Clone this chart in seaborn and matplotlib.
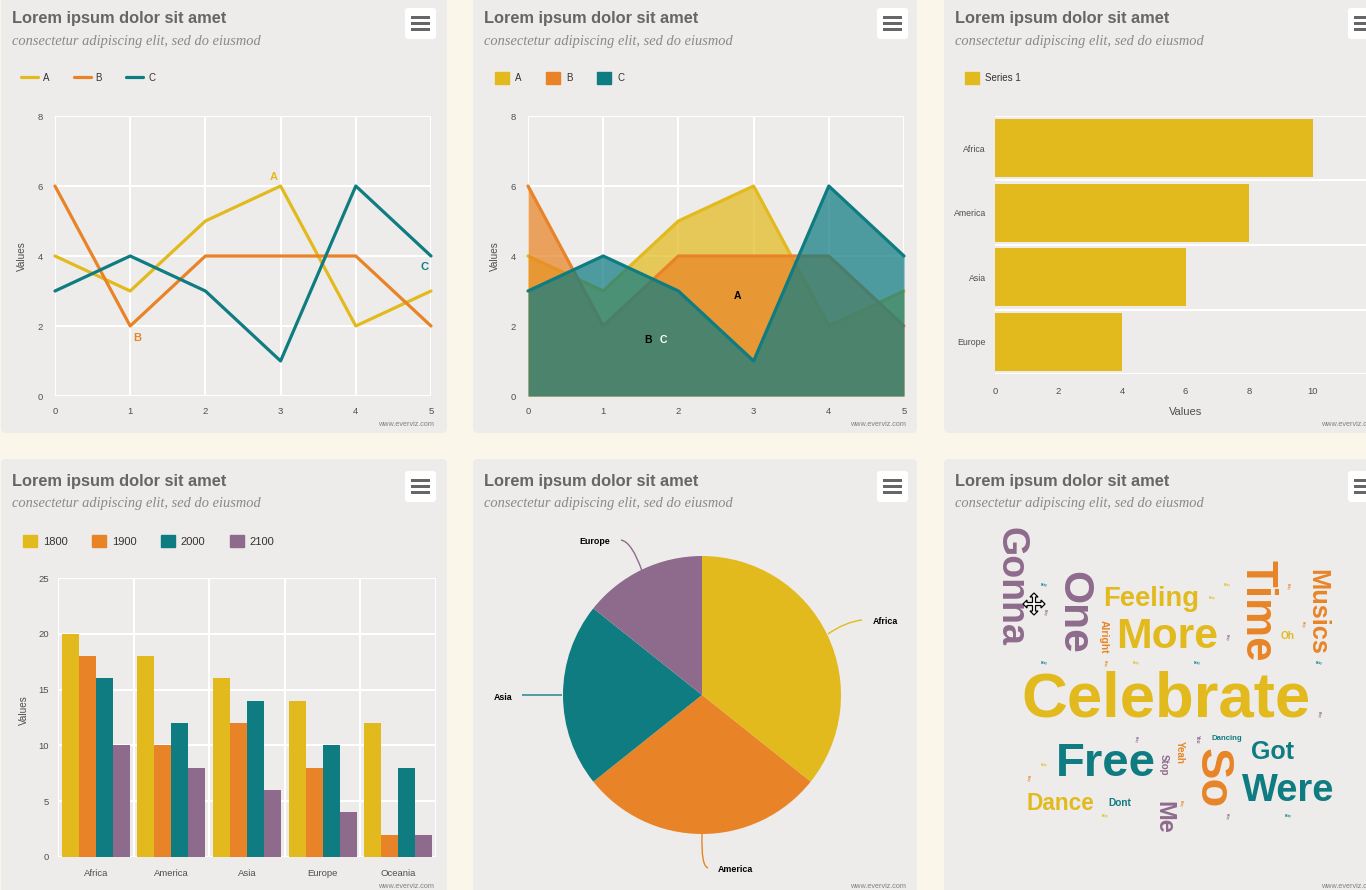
import matplotlib
matplotlib.use("Agg")
import matplotlib.pyplot as plt
from matplotlib.patches import FancyBboxPatch, Patch, PathPatch, Polygon, Rectangle
from matplotlib.path import Path
from matplotlib.lines import Line2D
import pandas as pd
import seaborn as sns

# data
x_vals = [0, 1, 2, 3, 4, 5]
series_a = [4, 3, 5, 6, 2, 3]
series_b = [6, 2, 4, 4, 4, 2]
series_c = [3, 4, 3, 1, 6, 4]
line_names = ["A", "B", "C"]

hbar_cats = ["Africa", "America", "Asia", "Europe"]
hbar_vals = [10, 8, 6, 4]

regions = ["Africa", "America", "Asia", "Europe", "Oceania"]
years = ["1800", "1900", "2000", "2100"]
vals_1800 = [20, 18, 16, 14, 12]
vals_1900 = [18, 10, 12, 8, 2]
vals_2000 = [16, 12, 14, 10, 8]
vals_2100 = [10, 8, 6, 4, 2]

pie_cats = ["Africa", "America", "Asia", "Europe"]
pie_vals = [5, 4, 3, 2]

# word, size in pt
big_words = ["Celebrate", "Free", "So", "More", "One", "Time", "Gonna", "Were", "Feeling",
             "Musics", "Got", "Me", "Dance", "Oh", "Alright", "Dont", "Dancing", "Yeah", "Stop", "You"]
word_sizes = [45.7, 34, 34, 30.7, 30.7, 31.5, 27, 27.4, 19.7, 18.3, 18, 17, 16.3, 7.3, 7.4, 7.3, 5.6, 7, 7, 3.4]

YELLOW = "#e2ba1e"
ORANGE = "#e88427"
TEAL = "#0f7c82"
PURPLE = "#8e6b8c"
PANEL = "#edecea"
PAGE = "#fbf6ea"
TXT = "#4f4f4f"

sns.set_theme(style="white")
plt.rcParams["font.family"] = ["Liberation Sans", "DejaVu Sans"]

W, H = 1366, 890
fig = plt.figure(figsize=(W / 100, H / 100), dpi=100, facecolor=PAGE)

# whole figure axes in pixel coordinates, for the panels and their text
bg = fig.add_axes([0, 0, 1, 1], zorder=0)
bg.set_xlim(0, W)
bg.set_ylim(H, 0)
bg.axis("off")


def px_axes(left, top, right, bottom):
    ax = fig.add_axes([left / W, 1 - bottom / H, (right - left) / W, (bottom - top) / H], zorder=2)
    ax.patch.set_alpha(0)
    return ax


def panel(x0, y0, x1, y1):
    bg.add_patch(FancyBboxPatch((x0, y0), x1 - x0, y1 - y0, boxstyle="round,pad=0,rounding_size=5",
                                fc=PANEL, ec="none"))


def chrome(x0, y0, foot_y):
    bg.text(x0 + 11, y0 + 18.5, "Lorem ipsum dolor sit amet", fontsize=11.8, color="#666666",
            weight="bold", va="center", ha="left")
    bg.text(x0 + 11, y0 + 41, "consectetur adipiscing elit, sed do eiusmod", fontsize=10.4,
            color="#8b8886", style="italic", family=["Liberation Serif", "DejaVu Serif"], va="center")
    bx = x0 + 404
    bg.add_patch(FancyBboxPatch((bx, y0 + 8), 31, 31, boxstyle="round,pad=0,rounding_size=3", fc="white", ec="none"))
    for dy in [17.5, 23.5, 29.5]:
        bg.add_patch(Rectangle((bx + 6, y0 + dy - 1.5), 19, 3, fc="#666666", ec="none"))
    bg.text(x0 + 433, foot_y, "www.everviz.com", fontsize=5.2, color="#808080", ha="right", va="center")


for x0, x1 in [(1, 447), (473, 917), (944, 1380)]:
    panel(x0, -6, x1, 433)
    panel(x0, 459, x1, 900)
    chrome(x0, 0, 424)
    chrome(x0, 463, 886)


def style_axes(ax, xpad=8, ypad=8.5):
    sns.despine(ax=ax, left=True, bottom=True, top=True, right=True)
    ax.tick_params(axis="x", which="major", length=0, labelsize=6.8, labelcolor=TXT, pad=xpad)
    ax.tick_params(axis="y", which="major", length=0, labelsize=6.8, labelcolor=TXT, pad=ypad)
    ax.tick_params(axis="both", which="minor", length=0)
    ax.grid(True, color="white", linewidth=1.5)
    ax.set_axisbelow(True)


def legend_at(ax, handles, labels, x, y, size=7.0, hlen=1.43, hheight=1.43, hpad=0.62, cspace=2.5):
    ax.legend(handles, labels, loc="center left", bbox_to_anchor=(x, y), bbox_transform=bg.transData,
              ncol=len(labels), frameon=False, fontsize=size, handlelength=hlen, handleheight=hheight,
              handletextpad=hpad, columnspacing=cspace, borderpad=0, borderaxespad=0,
              labelcolor="#333333")


# 1. lines
df_lines = pd.DataFrame({"x": x_vals * 3, "y": series_a + series_b + series_c,
                         "s": [n for n in line_names for _ in x_vals]})
ax1 = px_axes(55, 116, 431, 396)
sns.lineplot(data=df_lines, x="x", y="y", hue="s", palette=[YELLOW, ORANGE, TEAL], linewidth=2.3,
             ax=ax1, legend=False, clip_on=False)
ax1.set_xlim(0, 5)
ax1.set_ylim(0, 8)
ax1.set_yticks([0, 2, 4, 6, 8])
style_axes(ax1)
ax1.set_xlabel("")
ax1.set_ylabel("Values", fontsize=7.2, color=TXT)
ax1.yaxis.set_label_coords(-28 / 376, 0.5)
ax1.text(2.91, 6.26, "A", color=YELLOW, fontsize=8, weight="bold", ha="center", va="center")
ax1.text(1.09, 1.66, "B", color=ORANGE, fontsize=8, weight="bold", ha="center", va="center")
ax1.text(4.91, 3.69, "C", color=TEAL, fontsize=8, weight="bold", ha="center", va="center")
legend_at(ax1, [Line2D([], [], color=c, lw=2.3) for c in [YELLOW, ORANGE, TEAL]], line_names, 21, 78,
          hlen=1.75, hheight=1, hpad=0.5, cspace=2.5)

# 2. areas
ax2 = px_axes(528, 116, 904, 396)
for i, (vals, col) in enumerate(zip([series_a, series_b, series_c], [YELLOW, ORANGE, TEAL])):
    ax2.fill_between(x_vals, vals, 0, color=col, alpha=0.72, linewidth=0, zorder=2 * i + 1)
    sns.lineplot(x=x_vals, y=vals, color=col, linewidth=2.3, ax=ax2, clip_on=False, zorder=2 * i + 2)
ax2.set_xlim(0, 5)
ax2.set_ylim(0, 8)
ax2.set_yticks([0, 2, 4, 6, 8])
style_axes(ax2)
ax2.set_ylabel("Values", fontsize=7.2, color=TXT)
ax2.yaxis.set_label_coords(-28 / 376, 0.5)
ax2.text(2.79, 2.86, "A", color="black", fontsize=7.5, weight="bold", ha="center", va="center", zorder=10)
ax2.text(1.59, 1.6, "B", color="black", fontsize=7.5, weight="bold", ha="center", va="center", zorder=10)
ax2.text(1.80, 1.6, "C", color="white", fontsize=7.5, weight="bold", ha="center", va="center", zorder=10)
legend_at(ax2, [Patch(color=c) for c in [YELLOW, ORANGE, TEAL]], line_names, 495, 78, cspace=2.55)

# 3. horizontal bars, the axis runs past the right edge of the picture
ax3 = px_axes(995, 115.7, 1376, 374.3)
sns.barplot(x=hbar_vals, y=hbar_cats, color=YELLOW, saturation=1, width=0.9, orient="h", linewidth=0, ax=ax3)
ax3.set_xlim(0, 12)
ax3.set_ylim(3.5, -0.5)
ax3.set_yticks([0.5, 1.5, 2.5], minor=True)
style_axes(ax3, xpad=9, ypad=6.5)
ax3.tick_params(axis="y", which="major", labelsize=6.3)
ax3.grid(False)
ax3.grid(True, axis="y", which="minor", color="white", linewidth=1.5)
ax3.axhline(-0.5, color="white", lw=1.5)
ax3.axhline(3.5, color="white", lw=1.5)
ax3.set_xticks([0, 2, 4, 6, 8, 10, 12])
ax3.set_xlabel("Values", fontsize=8, color=TXT)
ax3.xaxis.set_label_coords((1186 - 995) / 381, -0.125)
legend_at(ax3, [Patch(color=YELLOW)], ["Series 1"], 965, 78)

# 4. grouped bars
df_bars = pd.DataFrame({"region": regions * 4, "value": vals_1800 + vals_1900 + vals_2000 + vals_2100,
                        "year": [y for y in years for _ in regions]})
ax4 = px_axes(58, 578, 436, 857)
sns.barplot(data=df_bars, x="region", y="value", hue="year", palette=[YELLOW, ORANGE, TEAL, PURPLE],
            saturation=1, width=0.9, linewidth=0, ax=ax4, legend=False)
ax4.set_xlim(-0.5, 4.5)
ax4.set_ylim(0, 25)
ax4.set_xticks([0.5, 1.5, 2.5, 3.5], minor=True)
ax4.set_yticks([0, 5, 10, 15, 20, 25])
style_axes(ax4, xpad=9, ypad=6.5)
ax4.grid(False, axis="x", which="major")
ax4.grid(True, axis="x", which="minor", color="white", linewidth=1.5)
ax4.axvline(-0.5, color="white", lw=1.5)
ax4.axvline(4.5, color="white", lw=1.5)
ax4.set_xlabel("")
ax4.set_ylabel("Values", fontsize=7.2, color=TXT)
ax4.yaxis.set_label_coords(-29 / 378, 0.527)
legend_at(ax4, [Patch(color=c) for c in [YELLOW, ORANGE, TEAL, PURPLE]], years, 23, 541, size=8, hlen=1.25, hheight=1.25,
          hpad=0.54, cspace=2.2)

# 5. pie
ax5 = px_axes(563, 556, 841, 834)
ax5.pie(pie_vals, colors=[YELLOW, ORANGE, TEAL, PURPLE], startangle=90, counterclock=False,
        wedgeprops={"edgecolor": "none", "linewidth": 0})
ax5.set_xlim(-1, 1)
ax5.set_ylim(-1, 1)
curves = [((828, 634), (845, 622), (862, 620), YELLOW, pie_cats[0], 873, 621, "left"),
          ((702, 834), (701, 866), (708, 868), ORANGE, pie_cats[1], 718, 869, "left"),
          ((562, 695), (540, 695), (522, 695), TEAL, pie_cats[2], 512, 697, "right"),
          ((642, 571), (632, 542), (621, 540), PURPLE, pie_cats[3], 610, 541, "right")]
for p0, p1, p2, col, name, tx, ty, ha in curves:
    bg.add_patch(PathPatch(Path([p0, p1, p2], [Path.MOVETO, Path.CURVE3, Path.CURVE3]), fc="none", ec=col, lw=1))
    bg.text(tx, ty, name, fontsize=6.4, color="black", weight="bold", ha=ha, va="center")

# 6. word cloud
word_layout = {
    "Celebrate": (1166, 700, 0, YELLOW), "Free": (1106, 764, 0, TEAL), "So": (1212, 778, -90, ORANGE),
    "More": (1167, 637, 0, YELLOW), "One": (1073, 612, -90, PURPLE), "Time": (1257, 611, -90, ORANGE),
    "Gonna": (1011, 586, -90, PURPLE), "Were": (1288, 791, 0, TEAL), "Feeling": (1151, 599, 0, YELLOW),
    "Musics": (1317, 612, -90, ORANGE), "Got": (1273, 752, 0, TEAL), "Me": (1164, 817, -90, PURPLE),
    "Dance": (1060, 803, 0, YELLOW), "Oh": (1288, 636, 0, YELLOW), "Alright": (1104, 637, -90, ORANGE),
    "Dont": (1120, 803, 0, TEAL), "Dancing": (1227, 739, 0, TEAL), "Yeah": (1180, 752, -90, ORANGE),
    "Stop": (1164, 765, -90, PURPLE), "You": (1197, 739, -90, PURPLE),
}
for word, size in zip(big_words, word_sizes):
    wx, wy, rot, col = word_layout[word]
    bg.text(wx, wy, word, fontsize=size, color=col, rotation=rot, ha="center", va="center",
            weight="bold", family=["Liberation Sans", "DejaVu Sans"])

# the unreadable tiny words
tiny = [(1044, 585, 0, TEAL), (1045, 612, -90, PURPLE), (1227, 585, 0, YELLOW), (1212, 598, 0, YELLOW),
        (1288, 586, -90, ORANGE), (1303, 624, -90, ORANGE), (1227, 637, -90, PURPLE), (1105, 663, -90, ORANGE),
        (1044, 663, 0, TEAL), (1136, 663, 0, YELLOW), (1197, 663, 0, TEAL), (1319, 663, 0, TEAL),
        (1319, 714, -90, PURPLE), (1136, 739, -90, PURPLE), (1044, 765, 0, YELLOW), (1028, 778, -90, ORANGE),
        (1105, 816, 0, YELLOW), (1181, 803, -90, ORANGE), (1227, 816, -90, PURPLE), (1288, 816, 0, TEAL)]
for tx, ty, rot, col in tiny:
    bg.text(tx, ty, "Baby", fontsize=2, color=col, rotation=rot, ha="center", va="center", weight="bold",
            family=["Liberation Sans", "DejaVu Sans"])

# move cursor that was caught in the screenshot
cx, cy = 1034, 604
arrows = [(0, -11), (4, -7), (1.5, -7), (1.5, -1.5), (7, -1.5), (7, -4), (11, 0), (7, 4), (7, 1.5), (1.5, 1.5),
          (1.5, 7), (4, 7), (0, 11), (-4, 7), (-1.5, 7), (-1.5, 1.5), (-7, 1.5), (-7, 4), (-11, 0), (-7, -4),
          (-7, -1.5), (-1.5, -1.5), (-1.5, -7), (-4, -7)]
bg.add_patch(Polygon([(cx + a, cy + b) for a, b in arrows], fc="white", ec="black", lw=0.9, zorder=5))

fig.savefig("out.png", dpi=100, facecolor=PAGE)
